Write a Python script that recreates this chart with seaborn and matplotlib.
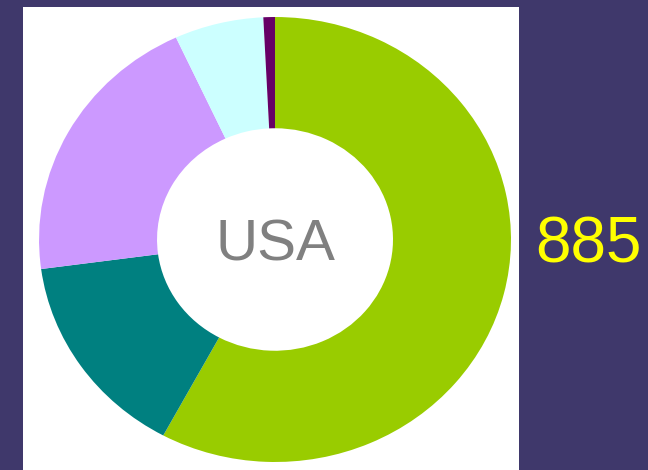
#! /usr/bin/env python
"""
Donut chart of a country's breakdown with its total
"""

import seaborn as sns
import matplotlib.pyplot as plt

COUNTRY = "USA"
TOTAL = 885

segments = ["A", "B", "C", "D", "E"]
counts = [512, 133, 179, 54, 7]
colours = ["#99cc00", "#008080", "#cc99ff", "#ccffff", "#660066"]

BACKGROUND = "#3f386b"


def run() -> None:
    sns.set_style("white")
    plt.rcParams["font.family"] = ["Liberation Sans Narrow", "Liberation Sans", "DejaVu Sans"]

    fig = plt.figure(figsize=(6.48, 4.70), dpi=100, facecolor=BACKGROUND)
    ax = fig.add_axes([23 / 648, 0, 496 / 648, 463 / 470])

    ax.pie(
        counts,
        colors=colours,
        startangle=90,
        counterclock=False,
        radius=1.0,
        wedgeprops={"width": 0.5, "linewidth": 0, "antialiased": True},
    )
    # pie() switches the frame off, which also hides the white panel
    ax.set_frame_on(True)
    for spine in ax.spines.values():
        spine.set_visible(False)
    ax.set_facecolor("white")
    # stretch the ring a bit, like the original
    ax.set_aspect("auto")
    ax.set_xlim(-1.068, 1.034)
    ax.set_ylim(-1.036, 1.045)
    ax.set_xticks([])
    ax.set_yticks([])

    ax.text(0, 0, COUNTRY, ha="center", va="center_baseline", fontsize=42,
            color="#808080")
    fig.text(588 / 648, 1 - 239 / 470, str(TOTAL), ha="center",
             va="center_baseline", fontsize=46, color="#ffff00")

    fig.savefig("out.png", dpi=100, facecolor=BACKGROUND)


if __name__ == "__main__":
    run()
